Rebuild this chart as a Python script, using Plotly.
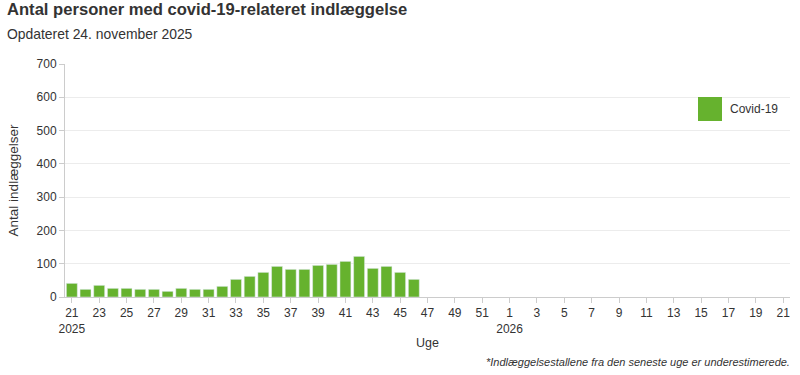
import plotly.graph_objects as go

weeks_2025 = list(range(21, 53))
weeks_2026 = list(range(1, 22))
categories = [f"2025-{w}" for w in weeks_2025] + [f"2026-{w}" for w in weeks_2026]
week_numbers = weeks_2025 + weeks_2026

covid_weeks = [f"2025-{w}" for w in range(21, 47)]
covid_values = [41, 23, 35, 26, 26, 23, 23, 17, 26, 23, 23, 32, 53, 62,
                74, 92, 83, 83, 95, 98, 107, 122, 86, 92, 74, 53]

tick_vals = categories[::2]
tick_text = []
for c, w in zip(categories[::2], week_numbers[::2]):
    if c == "2025-21":
        tick_text.append("21<br>2025")
    elif c == "2026-1":
        tick_text.append("1<br>2026")
    else:
        tick_text.append(str(w))

green = "#66B22E"
font = "Liberation Sans, Arial, sans-serif"

fig = go.Figure()
fig.add_trace(go.Bar(x=covid_weeks, y=covid_values, marker_color=green,
                     name="Covid-19", showlegend=False))

fig.update_layout(
    width=800, height=375,
    margin=dict(l=65, r=10, t=64, b=78),
    paper_bgcolor="white", plot_bgcolor="white",
    font=dict(family=font, size=12, color="#333333"),
    bargap=0.2,
    xaxis=dict(
        type="category", categoryorder="array", categoryarray=categories,
        range=[-0.5, len(categories) - 0.5],
        tickmode="array", tickvals=tick_vals, ticktext=tick_text,
        tickangle=0,
        showline=True, linecolor="#cccccc", linewidth=1,
        ticks="outside", ticklen=5, tickcolor="#cccccc",
        showgrid=False,
        tickfont=dict(size=12, color="#333333"),
        title=dict(text="Uge", font=dict(size=12.5, color="#333333"), standoff=3),
    ),
    yaxis=dict(
        range=[0, 700], tickvals=[0, 100, 200, 300, 400, 500, 600, 700],
        showline=True, linecolor="#cccccc", linewidth=1,
        ticks="outside", ticklen=5, tickcolor="#cccccc",
        showgrid=True, gridcolor="#ececec",
        zeroline=False,
        tickfont=dict(size=12, color="#333333"),
        title=dict(text="Antal indlæggelser", font=dict(size=13.5, color="#333333"), standoff=14),
    ),
    annotations=[
        dict(text="<b>Antal personer med covid-19-relateret indlæggelse</b>",
             xref="paper", yref="paper", x=-0.0827, y=1.0 + 54/233, xanchor="left", yanchor="middle",
             showarrow=False, font=dict(size=16.6, color="#333333", family=font)),
        dict(text="Opdateret 24. november 2025",
             xref="paper", yref="paper", x=-0.0827, y=1.0 + 30/233, xanchor="left", yanchor="middle",
             showarrow=False, font=dict(size=13.9, color="#333333", family=font)),
        dict(text="<i>*Indlæggelsestallene fra den seneste uge er underestimerede.</i>",
             xref="paper", yref="paper", x=(792 - 65) / 725, y=-65/233, xanchor="right", yanchor="middle",
             showarrow=False, font=dict(size=11, color="#333333", family=font)),
        dict(text="Covid-19", xref="paper", yref="paper",
             x=(728 - 65) / 725, y=(297 - 109) / 233, xanchor="left", yanchor="middle",
             showarrow=False, font=dict(size=12, color="#333333", family=font)),
    ],
    shapes=[
        dict(type="rect", xref="paper", yref="paper",
             x0=(698 - 65) / 725, x1=(722 - 65) / 725,
             y0=(297 - 121) / 233, y1=(297 - 97) / 233,
             fillcolor=green, line=dict(width=0)),
    ],
)

fig.write_html("out.html", config={"displayModeBar": False},
               post_script="document.body.style.margin='0px';")
